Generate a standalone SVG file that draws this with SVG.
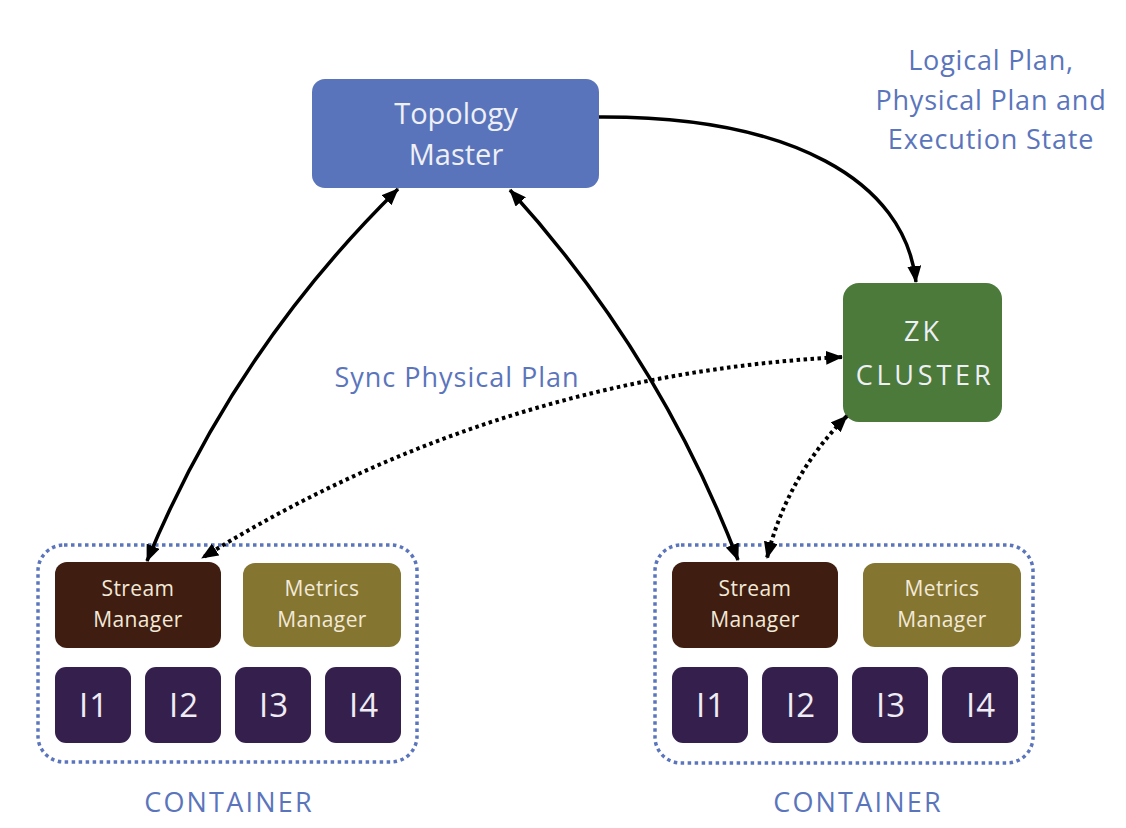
<svg xmlns="http://www.w3.org/2000/svg" width="1126" height="828" viewBox="0 0 1126 828">
<defs>
<marker id="ah" markerUnits="userSpaceOnUse" markerWidth="17" markerHeight="14" refX="16" refY="7" orient="auto-start-reverse" viewBox="0 0 17 14">
<path d="M0,0 L17,7 L0,14 Z" fill="#000"/>
</marker>
</defs>
<style>
.box{stroke:none}
.tm{fill:#5a74bb}
.zk{fill:#4b7a3b}
.sm{fill:#3f1d10}
.mm{fill:#847530}
.ib{fill:#35204d}
.cont{fill:none;stroke:#5b75bc;stroke-width:3.5;stroke-dasharray:3.5 3.5}
.t{font-family:"Open Sans","Liberation Sans",sans-serif;text-anchor:middle}
.lbl{fill:#5b75bc;font-size:27px}
.wt{fill:#eef0f6}
.ct{fill:#f2e9d8;font-size:21px;letter-spacing:0.4px}
.it{fill:#f0ecf4;font-size:33px;letter-spacing:1px}
.c{fill:none;stroke:#000;stroke-width:3.5}
.d{fill:none;stroke:#000;stroke-width:4;stroke-dasharray:3.5 3.5}
</style>
<rect width="1126" height="828" fill="#fff"/>

<g id="topology-master">
<rect class="box tm" x="312" y="79" width="287" height="109" rx="13"/>
<text class="t wt" x="456" y="124" font-size="29">Topology</text>
<text class="t wt" x="456" y="165" font-size="29">Master</text>
</g>

<g id="zk-cluster">
<rect class="box zk" x="843" y="283" width="159" height="139" rx="16"/>
<text class="t wt" x="923" y="341" font-size="27" letter-spacing="3">ZK</text>
<text class="t wt" x="925" y="385" font-size="27" letter-spacing="3.8">CLUSTER</text>
</g>

<g id="label-state">
<text class="t lbl" x="991" y="70" letter-spacing="0.8">Logical Plan,</text>
<text class="t lbl" x="991" y="110" letter-spacing="0.8">Physical Plan and</text>
<text class="t lbl" x="991" y="149" letter-spacing="0.8">Execution State</text>
</g>

<g id="label-sync">
<text class="t lbl" x="457" y="387" letter-spacing="1">Sync Physical Plan</text>
</g>

<g id="container-left">
<rect class="cont" x="38" y="545" width="379" height="217" rx="26"/>
<text class="t lbl" x="229" y="812" letter-spacing="2.2">CONTAINER</text>
</g>
<g id="stream-manager-left">
<rect class="box sm" x="55" y="562" width="166" height="86" rx="12"/>
<text class="t ct" x="138" y="596">Stream</text>
<text class="t ct" x="138" y="627">Manager</text>
</g>
<g id="metrics-manager-left">
<rect class="box mm" x="243" y="563" width="158" height="84" rx="12"/>
<text class="t ct" x="322" y="596">Metrics</text>
<text class="t ct" x="322" y="627">Manager</text>
</g>
<g id="i1-left"><rect class="box ib" x="55" y="667" width="76" height="76" rx="11"/><text class="t it" x="94" y="717">I1</text></g>
<g id="i2-left"><rect class="box ib" x="145" y="667" width="76" height="76" rx="11"/><text class="t it" x="184" y="717">I2</text></g>
<g id="i3-left"><rect class="box ib" x="235" y="667" width="76" height="76" rx="11"/><text class="t it" x="274" y="717">I3</text></g>
<g id="i4-left"><rect class="box ib" x="325" y="667" width="76" height="76" rx="11"/><text class="t it" x="364" y="717">I4</text></g>

<g id="container-right">
<rect class="cont" x="655" y="545" width="378" height="218" rx="26"/>
<text class="t lbl" x="858" y="812" letter-spacing="2.2">CONTAINER</text>
</g>
<g id="stream-manager-right">
<rect class="box sm" x="672" y="562" width="166" height="86" rx="12"/>
<text class="t ct" x="755" y="596">Stream</text>
<text class="t ct" x="755" y="627">Manager</text>
</g>
<g id="metrics-manager-right">
<rect class="box mm" x="863" y="563" width="158" height="84" rx="12"/>
<text class="t ct" x="942" y="596">Metrics</text>
<text class="t ct" x="942" y="627">Manager</text>
</g>
<g id="i1-right"><rect class="box ib" x="672" y="667" width="76" height="76" rx="11"/><text class="t it" x="711" y="717">I1</text></g>
<g id="i2-right"><rect class="box ib" x="762" y="667" width="76" height="76" rx="11"/><text class="t it" x="801" y="717">I2</text></g>
<g id="i3-right"><rect class="box ib" x="852" y="667" width="76" height="76" rx="11"/><text class="t it" x="891" y="717">I3</text></g>
<g id="i4-right"><rect class="box ib" x="942" y="667" width="76" height="76" rx="11"/><text class="t it" x="981" y="717">I4</text></g>

<g id="connectors">
<path class="c" d="M599,117 C790,116 905,180 916,282" marker-end="url(#ah)"/>
<path class="c" d="M398,189 Q235,349 147,561" marker-start="url(#ah)" marker-end="url(#ah)"/>
<path class="c" d="M510,190 Q659,354 738,560" marker-start="url(#ah)" marker-end="url(#ah)"/>
<path class="d" d="M842,357 Q496,375 202,558" marker-start="url(#ah)" marker-end="url(#ah)"/>
<path class="d" d="M847,416 Q787,476 767,558" marker-start="url(#ah)" marker-end="url(#ah)"/>
</g>
</svg>
